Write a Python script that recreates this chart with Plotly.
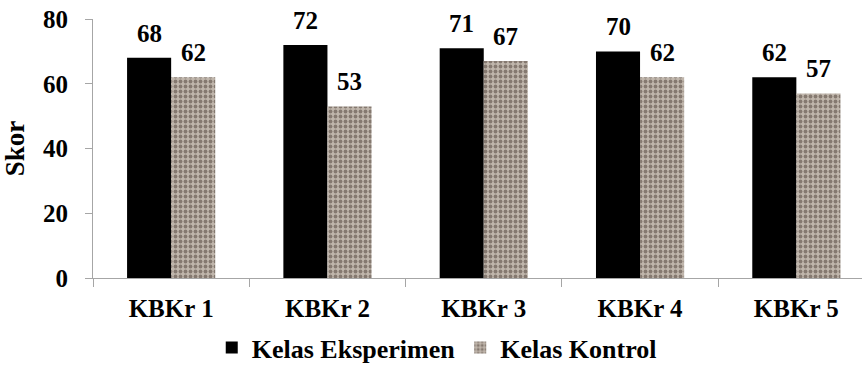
import plotly.graph_objects as go

categories = ["KBKr 1", "KBKr 2", "KBKr 3", "KBKr 4", "KBKr 5"]
eksperimen = [68, 72, 71, 70, 62]
kontrol = [62, 53, 67, 62, 57]
series_names = ["Kelas Eksperimen", "Kelas Kontrol"]
y_ticks = [0, 20, 40, 60, 80]

FAMILY = "Liberation Serif, Times New Roman, serif"
FONT = dict(family=FAMILY, size=25, color="black", weight="bold")
LEGEND_FONT = dict(family=FAMILY, size=26, color="black", weight="bold")
TITLE_FONT = dict(family=FAMILY, size=27, color="black", weight="bold")
AXIS_COLOR = "#a6a6a6"

fig = go.Figure()
fig.add_trace(go.Bar(
    name=series_names[0], x=categories, y=eksperimen,
    marker=dict(color="black", line=dict(width=0)),
))
fig.add_trace(go.Bar(
    name=series_names[1], x=categories, y=kontrol,
    marker=dict(
        color="#b0a59b",
        line=dict(width=0),
        pattern=dict(shape=".", bgcolor="#c0b6ac", fgcolor="#857970",
                     size=5, solidity=0.45, fillmode="replace"),
    ),
))

# value labels above each bar, offset to the bar's half of the group
bar_px = 22
for i, cat in enumerate(categories):
    for vals, dx in ((eksperimen, -bar_px), (kontrol, bar_px)):
        fig.add_annotation(
            x=i, y=vals[i], xref="x", yref="y", text=str(vals[i]),
            showarrow=False, yanchor="bottom", xshift=dx, yshift=9,
            font=FONT,
        )

fig.update_layout(
    width=862, height=371,
    margin=dict(l=93, r=0, t=19, b=89),
    paper_bgcolor="white", plot_bgcolor="white",
    barmode="group", bargap=0.436, bargroupgap=0,
    font=FONT,
    showlegend=True,
    legend=dict(orientation="h", x=0.447, xanchor="center", y=-0.27, yanchor="middle",
                font=LEGEND_FONT, itemwidth=30, traceorder="normal"),
    xaxis=dict(
        type="category", range=[-0.5, 4.42], tickson="boundaries",
        ticks="outside", ticklen=8, tickcolor=AXIS_COLOR,
        showline=True, linecolor=AXIS_COLOR, linewidth=1,
        showgrid=False, tickfont=FONT, ticklabelstandoff=8,
    ),
    yaxis=dict(
        range=[0, 80], tickvals=y_ticks, ticks="outside", ticklen=7,
        tickcolor=AXIS_COLOR, showline=True, linecolor=AXIS_COLOR, linewidth=1,
        showgrid=False, zeroline=False, tickfont=FONT, ticklabelstandoff=12,
        title=dict(text="Skor", font=TITLE_FONT, standoff=18),
    ),
)

fig.write_html("out.html")
